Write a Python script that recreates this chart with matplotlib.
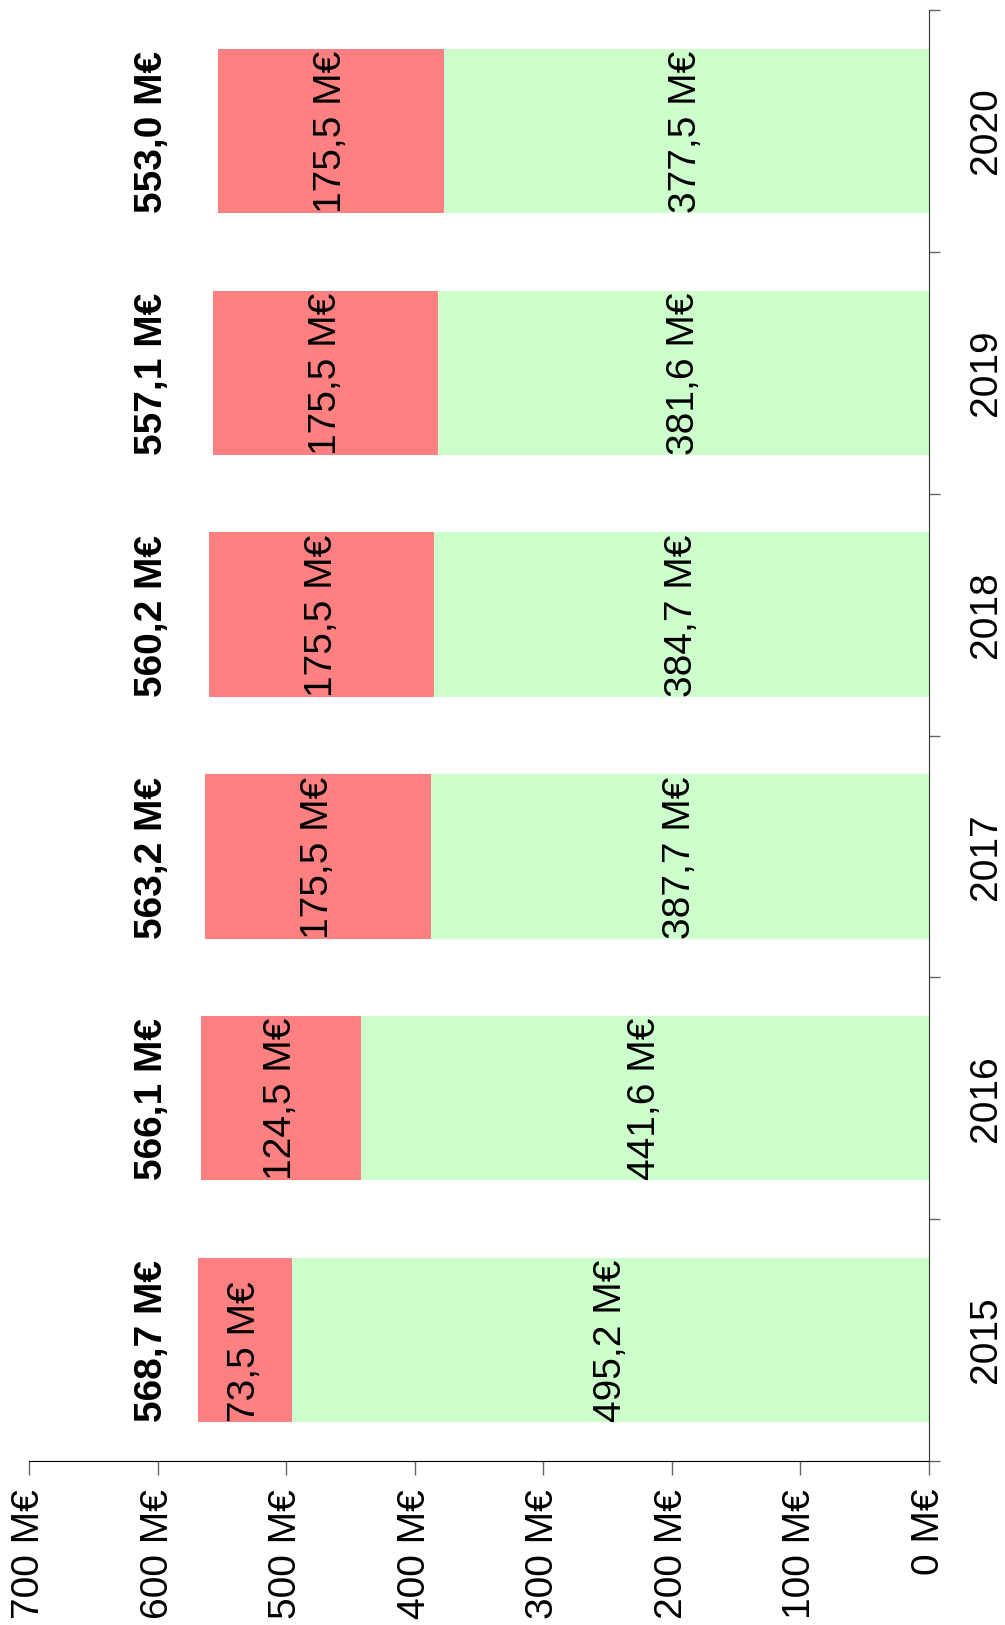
import matplotlib
matplotlib.use("Agg")
import matplotlib.pyplot as plt
import numpy as np

years = ["2015", "2016", "2017", "2018", "2019", "2020"]
green_vals = [495.2, 441.6, 387.7, 384.7, 381.6, 377.5]
red_vals = [73.5, 124.5, 175.5, 175.5, 175.5, 175.5]
totals = [568.7, 566.1, 563.2, 560.2, 557.1, 553.0]
value_ticks = [0, 100, 200, 300, 400, 500, 600, 700]

def fmt(v):
    return f"{v:.1f}".replace(".", ",") + " M€"

plt.rcParams['font.family'] = ['Liberation Sans', 'DejaVu Sans']

fig = plt.figure(figsize=(10.05, 16.25), dpi=100)
ax = fig.add_axes([29/1005, 1 - 1461/1625, 900/1005, (1461-10)/1625])

pos = np.arange(len(years))
h = 0.68
ax.barh(pos, green_vals, height=h, color="#CCFFCC", edgecolor="none")
ax.barh(pos, red_vals, left=green_vals, height=h, color="#FF8080", edgecolor="none")

fs = 28
for i in range(len(years)):
    edge = pos[i] - h/2
    ax.text(green_vals[i]/2, edge, fmt(green_vals[i]), rotation=90, rotation_mode='anchor',
            ha='left', va='center', fontsize=fs, color='black')
    ax.text(green_vals[i] + red_vals[i]/2, edge, fmt(red_vals[i]), rotation=90, rotation_mode='anchor',
            ha='left', va='center', fontsize=fs, color='black')
    ax.text(max(totals) + 36, edge, fmt(totals[i]), rotation=90, rotation_mode='anchor',
            ha='left', va='center', fontsize=fs, fontweight='bold', color='black')

ax.set_xlim(700, 0)
ax.set_ylim(-0.5, len(years) - 0.5)

ax.spines['top'].set_visible(False)
ax.spines['left'].set_visible(False)
ax.spines['bottom'].set_color('black')
ax.spines['right'].set_color('#333333')

ax.set_xticks(value_ticks)
ax.set_xticklabels([f"{v} M€" for v in value_ticks], rotation=90, fontsize=fs)
ax.tick_params(axis='x', direction='out', length=10, width=1, color='#666666', pad=10)

ax.yaxis.tick_right()
ax.set_yticks(pos)
ax.set_yticklabels(years, rotation=90, fontsize=fs, va='center')
ax.set_yticks(np.arange(-0.5, len(years)), minor=True)
ax.tick_params(axis='y', which='major', length=0, pad=28)
ax.tick_params(axis='y', which='minor', direction='out', length=8, width=1, color='#666666')

fig.savefig("out.png", dpi=100)
